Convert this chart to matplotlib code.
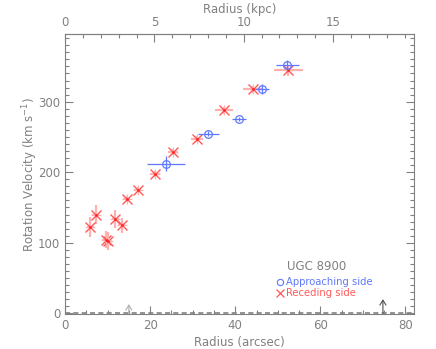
import matplotlib
matplotlib.use("Agg")
import matplotlib.pyplot as plt
from matplotlib.ticker import MultipleLocator

# Approaching side (blue circles)
app_r = [52.2, 46.3, 40.9, 33.7, 23.8]
app_v = [351.8, 317.7, 275.6, 254.9, 212.3]
app_rerr = [2.7, 1.6, 1.7, 2.4, 4.5]
app_verr = [7, 7, 3, 3, 10.7]

# Receding side (red crosses)
rec_r = [52.5, 44.1, 37.3, 31.0, 25.3, 21.1, 17.1, 14.5, 7.2, 5.9, 11.8, 13.3, 9.6, 10.2]
rec_v = [344.7, 317.3, 288.0, 246.8, 228.8, 197.2, 175.5, 161.7, 140.0, 122.4, 133.3, 124.8, 104.5, 102.1]
rec_rerr = [3.5, 2.2, 2.1, 1.4, 1.2, 1.2, 0.8, 0.8, 0.8, 0.8, 0.8, 0.8, 0.8, 0.8]
rec_verr = [8, 5, 5, 4, 4, 4, 4, 4, 14, 14, 13, 11, 12, 13]

arrow_r = [15, 74.7]
arrow_h = [13, 20]
kpc_per_arcsec = 0.2381

gray = "#808080"
blue = "#5f78ff"
red = "#ff5a5a"
pink = "#ffb0b0"

fig = plt.figure(figsize=(4.36, 3.49), dpi=100)
ax = fig.add_axes([0.1491, 0.1003, 0.8004, 0.8023])
ax.set_xlim(0, 82)
ax.set_ylim(-1, 396)

ax.axhline(0, color=gray, lw=1.2, ls=(0, (3, 2)), zorder=1)

ax.errorbar(rec_r, rec_v, xerr=rec_rerr, yerr=rec_verr, fmt='none',
            ecolor=pink, elinewidth=1.6, capsize=0, zorder=2)
ax.plot(rec_r, rec_v, ls='none', marker='x', ms=6.5, mew=1.0, color=red, zorder=3)
ax.plot(rec_r, rec_v, ls='none', marker='+', ms=6.5, mew=0.8, color=pink, zorder=3)
ax.plot(rec_r, rec_v, ls='none', marker='o', ms=2, mew=0, color="#ff2020", zorder=3)
ax.errorbar(app_r, app_v, xerr=app_rerr, yerr=app_verr, fmt='none',
            ecolor=blue, elinewidth=0.9, capsize=0, zorder=4)
ax.plot(app_r, app_v, ls='none', marker='o', ms=5.5, mfc='none', mew=0.9,
        color=blue, zorder=5)

for r, h, c in zip(arrow_r, arrow_h, ["#b0b0b0", "#505050"]):
    ax.annotate("", xy=(r, h), xytext=(r, 0),
                arrowprops=dict(arrowstyle='->,head_width=0.22,head_length=0.35',
                                color=c, lw=0.8, shrinkA=0, shrinkB=0))

ax.xaxis.set_major_locator(MultipleLocator(20))
ax.xaxis.set_minor_locator(MultipleLocator(5))
ax.yaxis.set_major_locator(MultipleLocator(100))
ax.yaxis.set_minor_locator(MultipleLocator(10))
ax.tick_params(which='both', direction='in', right=True, top=False,
               colors=gray, labelcolor=gray, labelsize=8.5)
ax.tick_params(which='major', length=6, width=0.8)
ax.tick_params(which='minor', length=3, width=0.8)
for s in ax.spines.values():
    s.set_color(gray)
    s.set_linewidth(0.8)

sec = ax.secondary_xaxis('top', functions=(lambda x: x * kpc_per_arcsec,
                                           lambda k: k / kpc_per_arcsec))
sec.xaxis.set_major_locator(MultipleLocator(5))
sec.xaxis.set_minor_locator(MultipleLocator(1))
sec.tick_params(which='both', direction='in', colors=gray, labelcolor=gray,
                labelsize=8.5)
sec.tick_params(which='major', length=6, width=0.8)
sec.tick_params(which='minor', length=3, width=0.8)
sec.spines['top'].set_color(gray)
sec.set_xlabel("Radius (kpc)", color=gray, fontsize=8.5, labelpad=2)

ax.set_xlabel("Radius (arcsec)", color=gray, fontsize=8.5, labelpad=3)
ax.set_ylabel("Rotation Velocity (km s$^{-1}$)", color=gray, fontsize=8.5,
              va='center')
ax.yaxis.set_label_coords(-0.10, 0.5)

ax.text(0.636, 0.168, "UGC 8900", transform=ax.transAxes, color=gray,
        fontsize=8.5, va='center', ha='left')
ax.plot([0.616], [0.114], transform=ax.transAxes, marker='o', ms=4.5,
        mfc='none', mew=0.8, color=blue, clip_on=False)
ax.text(0.632, 0.114, "Approaching side", transform=ax.transAxes, color=blue,
        fontsize=7.2, va='center', ha='left')
ax.plot([0.616], [0.075], transform=ax.transAxes, marker='x', ms=6,
        mew=0.9, color=red, clip_on=False)
ax.text(0.632, 0.075, "Receding side", transform=ax.transAxes, color=red,
        fontsize=7.2, va='center', ha='left')

fig.savefig("out.png", dpi=100)
